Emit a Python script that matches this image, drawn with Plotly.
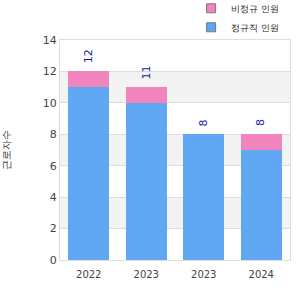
import plotly.graph_objects as go

categories = ["2022", "2023", "2023", "2024"]
base_values = [11, 10, 8, 7]
extra_values = [1, 1, 0, 1]
totals = [12, 11, 8, 8]
legend_base = "정규직 인원"
legend_extra = "비정규 인원"
y_title = "근로자수"

blue = "#60A8F4"
pink = "#F285BE"
xs = list(range(len(categories)))

fig = go.Figure()
fig.add_trace(go.Bar(x=xs, y=base_values, marker=dict(color=blue, line=dict(width=0)),
                     width=0.71, showlegend=False, hoverinfo="skip"))
fig.add_trace(go.Bar(x=xs, y=extra_values, marker=dict(color=pink, line=dict(width=0)),
                     width=0.71, showlegend=False, hoverinfo="skip"))
# legend entries
fig.add_trace(go.Scatter(x=[None], y=[None], mode="markers", name=legend_base,
                         marker=dict(symbol="square", size=9, color=blue, line=dict(color="#777", width=1))))
fig.add_trace(go.Scatter(x=[None], y=[None], mode="markers", name=legend_extra,
                         marker=dict(symbol="square", size=9, color=pink, line=dict(color="#777", width=1))))

for x, t in zip(xs, totals):
    fig.add_annotation(x=x, y=t, text=str(t), textangle=-90, showarrow=False,
                       yanchor="bottom", yshift=6, font=dict(color="#1a1a9e", size=11, family="DejaVu Sans"))

for lo in [2, 6, 10]:
    fig.add_shape(type="rect", xref="paper", x0=0, x1=1, y0=lo, y1=lo + 2,
                  fillcolor="#f3f3f3", line=dict(width=0), layer="below")

fig.update_layout(
    width=300, height=300, barmode="stack", bargap=0.29,
    margin=dict(l=60, r=10, t=40, b=40, autoexpand=False),
    plot_bgcolor="white", paper_bgcolor="white",
    font=dict(family="DejaVu Sans", size=11, color="#444"),
    legend=dict(x=0.57, y=1.21, xanchor="left", yanchor="top",
                traceorder="reversed",
                font=dict(size=9, color="#222"), itemwidth=30, tracegroupgap=0,
                bgcolor="rgba(0,0,0,0)"),
    yaxis=dict(range=[0, 14], dtick=2, showgrid=True, gridcolor="#dddddd",
               showline=True, linecolor="#dddddd", mirror=True, zeroline=False,
               ticks="", ticklen=0, tickfont=dict(size=11),
               title=dict(text=y_title, font=dict(size=10, color="#333"), standoff=30)),
    xaxis=dict(tickvals=xs, ticktext=categories, range=[-0.5, 3.5], showgrid=False,
               showline=True, linecolor="#dddddd", mirror=True, zeroline=False,
               ticks="outside", ticklen=5, tickcolor="rgba(0,0,0,0)",
               tickfont=dict(size=10)),
)

fig.write_html("out.html")
